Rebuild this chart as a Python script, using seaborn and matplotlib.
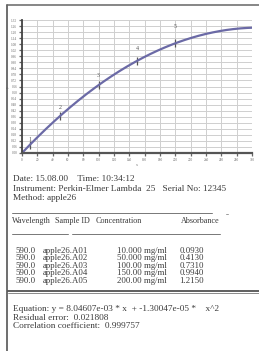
import matplotlib
matplotlib.use('Agg')
import matplotlib.pyplot as plt
import seaborn as sns
import numpy as np
import pandas as pd
from matplotlib.lines import Line2D
from matplotlib.ticker import MultipleLocator, FormatStrFormatter

# measurement table
sample_no = ['1', '2', '3', '4', '5']
wavelength = ['590.0', '590.0', '590.0', '590.0', '590.0']
sample_id = ['apple26.A01', 'apple26.A02', 'apple26.A03', 'apple26.A04', 'apple26.A05']
concentration = [10, 50, 100, 150, 200]
conc_text = ['10.000 mg/ml', '50.000 mg/ml', '100.00 mg/ml', '150.00 mg/ml', '200.00 mg/ml']
absorbance = [0.0930, 0.4130, 0.7310, 0.9940, 1.2150]

# fit from the printout
coef_lin = 8.04607e-03
coef_quad = -1.30047e-05

W, H = 259, 351
ink = '#3a3a3a'

sns.set_theme(style='white', rc={'axes.edgecolor': '#555555'})
plt.rcParams['font.family'] = ['Liberation Serif', 'DejaVu Serif']

fig = plt.figure(figsize=(W / 100, H / 100), dpi=100)
fig.patch.set_facecolor('white')


def fx(x):
    return x / W


def fy(y):
    return 1 - y / H


ax = fig.add_axes([fx(22), fy(153), 230 / W, 133 / H])

df = pd.DataFrame({'conc': concentration, 'abs': absorbance, 'no': sample_no})
df['fit'] = coef_lin * df['conc'] + coef_quad * df['conc'] ** 2

xs = np.linspace(0, 300, 200)
curve = pd.DataFrame({'x': xs, 'y': coef_lin * xs + coef_quad * xs ** 2})
sns.lineplot(data=curve, x='x', y='y', ax=ax, color='#6b6aa6', lw=1.6)
sns.scatterplot(data=df, x='conc', y='fit', ax=ax, marker='|', s=30,
                color='#555555', linewidth=0.9)
for _, r in df.iterrows():
    ax.annotate(r['no'], (r['conc'], r['abs']), xytext=(0, 3),
                textcoords='offset points', ha='center', va='center',
                fontsize=4.3, color='#555555')

ax.set_xlim(0, 300)
ax.set_ylim(0, 1.32)
ax.xaxis.set_major_locator(MultipleLocator(20))
ax.yaxis.set_major_locator(MultipleLocator(0.06))
ax.yaxis.set_major_formatter(FormatStrFormatter('%.2f'))
ax.grid(True, color='#cfcfcf', lw=0.7)
ax.tick_params(labelsize=2.4, labelcolor='#666666', length=2, width=0.9,
               color='#666666', pad=1.5, bottom=True, left=True)
ax.set_xlabel('x', fontsize=3, color='#777777', labelpad=1)
ax.set_ylabel('y', fontsize=3, color='#777777', labelpad=1)
for s in ['top', 'right']:
    ax.spines[s].set_visible(False)
ax.spines['left'].set_linewidth(1.3)
ax.spines['bottom'].set_linewidth(1.6)
ax.spines['left'].set_color('#444444')
ax.spines['bottom'].set_color('#555555')

# page frame
fig.add_artist(Line2D([fx(7), fx(7)], [fy(5), fy(351)], color='#555555', lw=1.2))
fig.add_artist(Line2D([fx(7), fx(259)], [fy(5), fy(5)], color='#666666', lw=1.1))

fs = 6.7


def txt(x, y, s, ha='left', size=fs):
    fig.text(fx(x), fy(y), s, ha=ha, va='center', fontsize=size, color=ink)


txt(13, 179, 'Date: 15.08.00    Time: 10:34:12')
txt(13, 189, 'Instrument: Perkin-Elmer Lambda  25   Serial No: 12345')
txt(13, 198, 'Method: apple26')

fig.add_artist(Line2D([fx(12), fx(212)], [fy(213), fy(213)], color='#777777', lw=0.7))
fig.add_artist(Line2D([fx(226), fx(228)], [fy(214), fy(214)], color='#999999', lw=0.7))
hs = 5.9
txt(12, 221, 'Wavelength', size=hs)
txt(55, 221, 'Sample ID', size=hs)
txt(96, 221, 'Concentration', size=hs)
txt(220, 221, 'Absorbance', ha='right', size=hs)
fig.add_artist(Line2D([fx(12), fx(68)], [fy(234), fy(234)], color='#777777', lw=0.7))
fig.add_artist(Line2D([fx(72), fx(220)], [fy(234), fy(234)], color='#777777', lw=0.7))

row_y = [251, 258, 266, 273, 281]
for i in range(5):
    txt(15, row_y[i], wavelength[i], size=6.3)
    txt(43, row_y[i], sample_id[i], size=6.3)
    txt(167, row_y[i], conc_text[i], ha='right', size=6.3)
    txt(204, row_y[i], '%.4f' % absorbance[i], ha='right', size=6.3)

fig.add_artist(Line2D([fx(8), fx(259)], [fy(291), fy(291)], color='#444444', lw=1.2))
fig.add_artist(Line2D([fx(8), fx(259)], [fy(293), fy(293)], color='#777777', lw=0.6))

txt(13, 309, 'Equation: y = 8.04607e-03 * x  + -1.30047e-05 *    x^2')
txt(13, 318, 'Residual error:  0.021808')
txt(13, 326, 'Correlation coefficient:  0.999757')

fig.savefig('out.png', dpi=100)
